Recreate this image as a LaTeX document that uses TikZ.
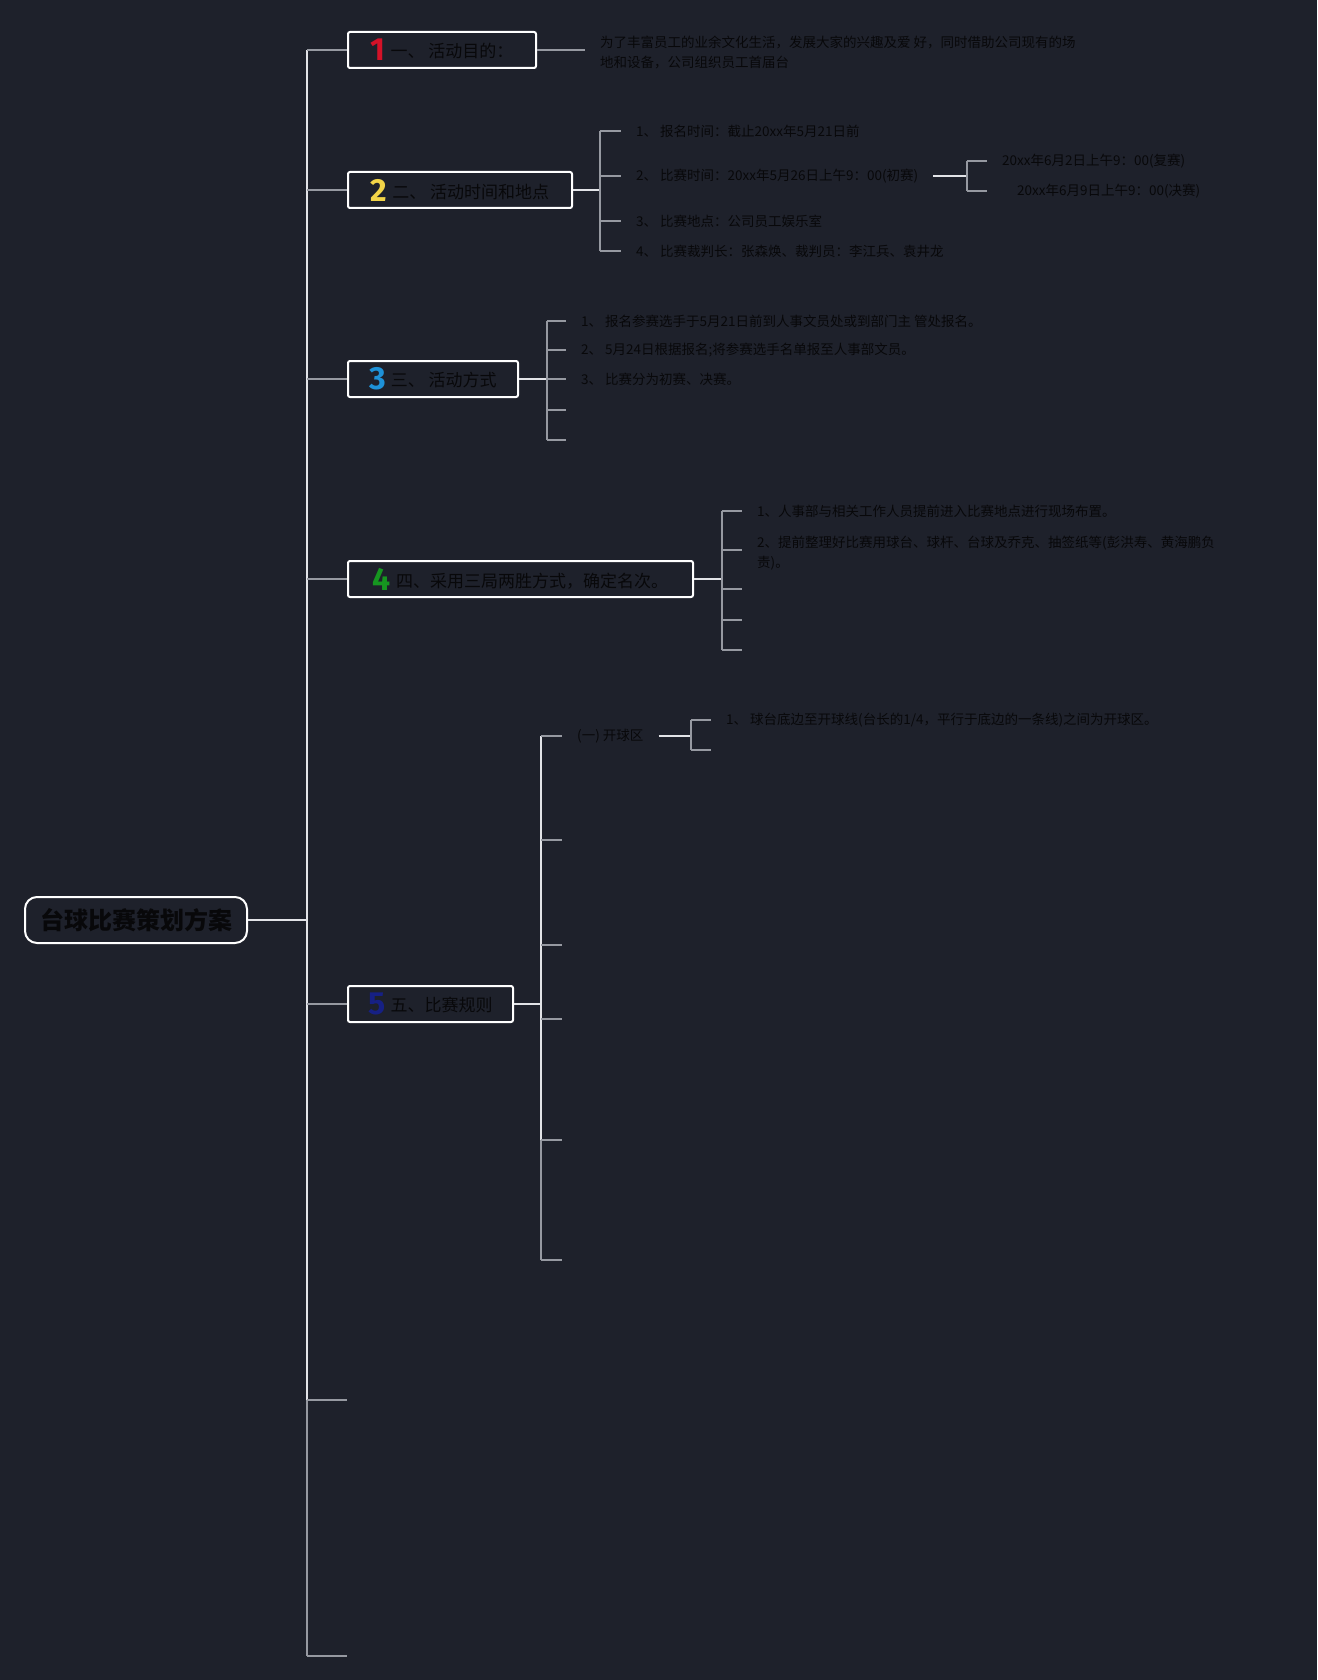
\documentclass[tikz,border=0pt]{standalone}
\usepackage{fontspec}
\setmainfont{Liberation Serif}
\newfontfamily\cjk{Noto Sans CJK SC}
\newfontfamily\numfont{Fira Sans}
\usetikzlibrary{positioning,calc}
\definecolor{bg}{RGB}{30,33,43}
\definecolor{wl}{RGB}{226,227,231}
\definecolor{gl}{RGB}{150,153,161}
\definecolor{ink}{RGB}{8,8,10}
\definecolor{n1}{RGB}{212,18,40}
\definecolor{n2}{RGB}{242,212,72}
\definecolor{n3}{RGB}{30,146,216}
\definecolor{n4}{RGB}{22,150,32}
\definecolor{n5}{RGB}{22,32,132}
\newcommand{\topicnum}[2]{{\numfont\bfseries\fontsize{32}{32}\selectfont\color{#1}\raisebox{-3pt}{#2}}\hspace{5pt}}

\tikzset{
  rootbox/.style={draw=white, line width=2pt, rounded corners=12pt, fill=bg,
    minimum width=222pt, minimum height=46pt, inner sep=0pt, text=ink,
    font=\cjk\bfseries\fontsize{24}{28}\selectfont},
  topic/.style={draw=white, line width=2pt, rounded corners=2pt, fill=bg, anchor=west,
    minimum height=36pt, inner sep=0pt, text=ink, font=\cjk\fontsize{17}{20}\selectfont},
  item/.style={anchor=west, inner xsep=15pt, inner ysep=2pt, align=left, text=ink,
    font=\cjk\fontsize{13.5}{20}\selectfont},
  wline/.style={wl, line width=2pt},
  gline/.style={gl, line width=2pt},
}

\begin{document}
\begin{tikzpicture}[x=1pt, y=-1pt]
  \fill[bg] (0,0) rectangle (1317,1680);
  \useasboundingbox (0,0) rectangle (1317,1680);
  % root + topics
  \node[rootbox] (root) at (136,920) {台球比赛策划方案};
  \node[topic, minimum width=188pt] (t1) at (347,50) {\topicnum{n1}{1}一、 活动目的：};
  \node[topic, minimum width=224pt] (t2) at (347,190) {\topicnum{n2}{2}二、 活动时间和地点};
  \node[topic, minimum width=170pt] (t3) at (347,379) {\topicnum{n3}{3}三、 活动方式};
  \node[topic, minimum width=345pt] (t4) at (347,579) {\topicnum{n4}{4}四、采用三局两胜方式，确定名次。};
  \node[topic, minimum width=165pt] (t5) at (347,1004) {\topicnum{n5}{5}五、比赛规则};
  \coordinate (t6) at (347,1400);
  \coordinate (t7) at (347,1656);
  % trunk
  \coordinate (trk) at (307,0);
  \draw[wline] (root.east) -- (trk |- root.east);
  \draw[wline] (trk |- t1.west) -- (trk |- t6);
  \draw[gline] (trk |- t6) -- (trk |- t7);
  \foreach \t in {t1,t2,t3,t4,t5} \draw[gline] (trk |- \t.west) -- (\t.west);
  \foreach \t in {t6,t7} \draw[gline] (trk |- \t) -- (\t);

  % 1: purpose
  \node[item] (a1) at (585,52) {为了丰富员工的业余文化生活，发展大家的兴趣及爱 好，同时借助公司现有的场\\地和设备，公司组织员工首届台};
  \draw[gline] (t1.east) -- (a1.west |- t1.east);

  % 2: time and place
  \coordinate (kt2) at (600,0);
  \node[item] (b1) at (621,131) {1、 报名时间：截止20xx年5月21日前};
  \node[item] (b2) at (621,176) {2、 比赛时间：20xx年5月26日上午9：00(初赛)};
  \node[item] (b3) at (621,221) {3、 比赛地点：公司员工娱乐室};
  \node[item] (b4) at (621,251) {4、 比赛裁判长：张森焕、裁判员：李江兵、袁井龙};
  \draw[wline] (t2.east) -- (kt2 |- t2.east);
  \draw[gline] (kt2 |- b1.west) -- (kt2 |- b4.west);
  \foreach \b in {b1,b2,b3,b4} \draw[gline] (kt2 |- \b.west) -- (\b.west);
  \coordinate (kb2) at (967,0);
  \node[item] (b21) at (987,161) {20xx年6月2日上午9：00(复赛)};
  \node[item] (b22) at (987,191) {\hspace*{15pt}20xx年6月9日上午9：00(决赛)};
  \draw[wline] (b2.east) -- (kb2 |- b2.east);
  \draw[gline] (kb2 |- b21.west) -- (kb2 |- b22.west);
  \foreach \b in {b21,b22} \draw[gline] (kb2 |- \b.west) -- (\b.west);

  % 3: method
  \coordinate (kt3) at (547,0);
  \node[item] (c1) at (566,321) {1、 报名参赛选手于5月21日前到人事文员处或到部门主 管处报名。};
  \node[item] (c2) at (566,350) {2、 5月24日根据报名;将参赛选手名单报至人事部文员。};
  \node[item] (c3) at (566,379) {3、 比赛分为初赛、决赛。};
  \draw[wline] (t3.east) -- (kt3 |- t3.east);
  \draw[gline] (kt3 |- c1.west) -- (kt3 |- 0,440);
  \foreach \c in {c1,c2,c3} \draw[gline] (kt3 |- \c.west) -- (\c.west);
  \foreach \y in {410,440} \draw[gline] (kt3 |- 0,\y) -- ++(19,0);

  % 4: three games
  \coordinate (kt4) at (722,0);
  \node[item] (d1) at (742,511) {1、人事部与相关工作人员提前进入比赛地点进行现场布置。};
  \node[item] (d2) at (742,553) {2、提前整理好比赛用球台、球杆、台球及乔克、抽签纸等(彭洪寿、黄海鹏负\\责)。};
  \draw[wline] (t4.east) -- (kt4 |- t4.east);
  \draw[gline] (kt4 |- d1.west) -- (kt4 |- 0,650);
  \draw[gline] (kt4 |- d1.west) -- (d1.west);
  \draw[gline] (kt4 |- 0,550) -- (d2.west |- 0,550);
  \foreach \y in {589,620,650} \draw[gline] (kt4 |- 0,\y) -- ++(20,0);

  % 5: rules
  \coordinate (kt5) at (541,0);
  \node[item] (e1) at (562,736) {(一) 开球区};
  \draw[wline] (t5.east) -- (kt5 |- t5.east);
  \draw[wline] (kt5 |- e1.west) -- (kt5 |- 0,1140);
  \draw[gline] (kt5 |- 0,1140) -- (kt5 |- 0,1260);
  \draw[gline] (kt5 |- e1.west) -- (e1.west);
  \foreach \y in {840,945,1019,1140,1260} \draw[gline] (kt5 |- 0,\y) -- ++(21,0);
  \coordinate (ke1) at (691,0);
  \node[item] (e11) at (711,720) {1、 球台底边至开球线(台长的1/4，平行于底边的一条线)之间为开球区。};
  \draw[wline] (e1.east) -- (ke1 |- e1.east);
  \draw[gline] (ke1 |- e11.west) -- (ke1 |- 0,750);
  \draw[gline] (ke1 |- e11.west) -- (e11.west);
  \draw[gline] (ke1 |- 0,750) -- ++(20,0);
\end{tikzpicture}
\end{document}
